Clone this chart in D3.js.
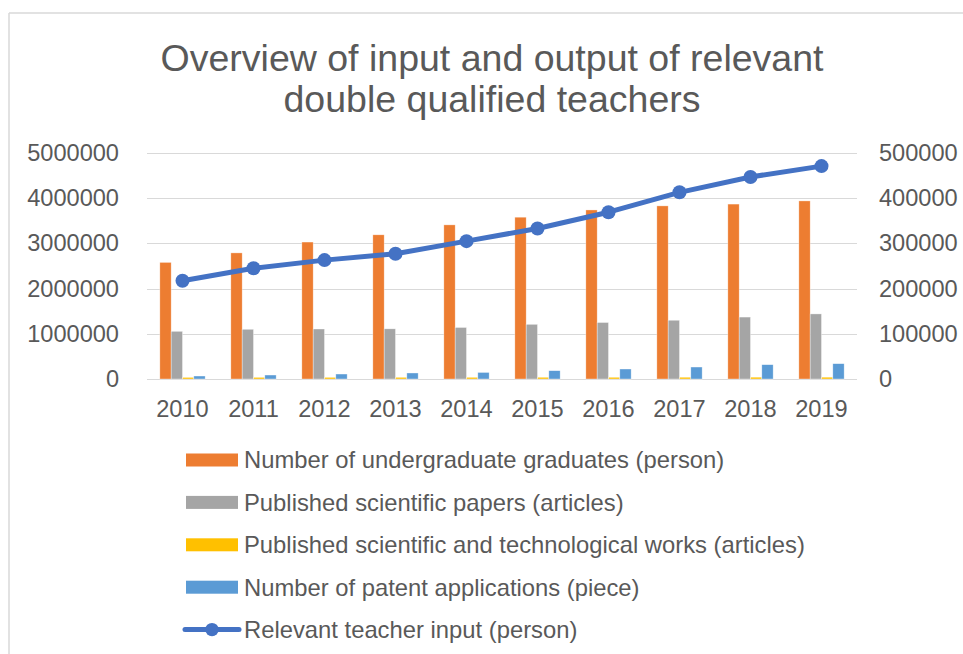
<!DOCTYPE html>
<html>
<head>
<meta charset="utf-8">
<script src="https://cdn.jsdelivr.net/npm/d3@7"></script>
<style>
  body { margin: 0; background: #fff; }
  svg { display: block; font-family: "Liberation Sans", Arial, sans-serif; }
  .title-text { fill: #595959; font-size: 37.5px; }
  .axis-g text { fill: #595959; font-size: 23.6px; }
  .legend-text { fill: #595959; font-size: 23.8px; }
  .grid-line { stroke: #d9d9d9; stroke-width: 1; }
  .frame-line { stroke: #d9d9d9; stroke-width: 1.5; }
</style>
</head>
<body>
<div id="chart"></div>
<script>
const years = ["2010", "2011", "2012", "2013", "2014", "2015", "2016", "2017", "2018", "2019"];

const undergraduates = [2580000, 2790000, 3030000, 3190000, 3410000, 3580000, 3740000, 3830000, 3870000, 3940000];
const papers = [1055000, 1100000, 1106000, 1110000, 1140000, 1210000, 1250000, 1300000, 1370000, 1440000];
const works = [35000, 36000, 36000, 37000, 37000, 38000, 38000, 39000, 40000, 40000];
const patents = [66000, 88000, 110000, 133000, 145000, 184000, 221000, 265000, 317000, 339000];
const teacherInput = [217500, 245000, 263000, 277000, 305000, 333000, 369000, 413000, 447000, 471000];

const leftTicks = [0, 1000000, 2000000, 3000000, 4000000, 5000000];
const rightTicks = [0, 100000, 200000, 300000, 400000, 500000];

const titleLines = ["Overview of input and output of relevant", "double qualified teachers"];

const barSeries = [
  { key: "undergraduates", name: "Number of undergraduate graduates (person)", color: "#ED7D31", values: undergraduates },
  { key: "papers", name: "Published scientific papers (articles)", color: "#A5A5A5", values: papers },
  { key: "works", name: "Published scientific and technological works (articles)", color: "#FFC000", values: works },
  { key: "patents", name: "Number of patent applications (piece)", color: "#5B9BD5", values: patents },
];
const lineSeries = { key: "teachers", name: "Relevant teacher input (person)", color: "#4472C4", values: teacherInput };

class InputOutputChart {
  constructor({ el }) {
    this.el = el;
    this.setup();
    this.scaffold();
    this.render();
  }

  setup() {
    this.width = 963;
    this.height = 654;
    this.plotLeft = 147;
    this.plotRight = 857;
    this.plotTop = 153;
    this.plotBottom = 379;
    this.markerRadius = 7;

    this.x = d3.scaleBand()
      .domain(years)
      .range([this.plotLeft, this.plotRight])
      .paddingInner(0.362)
      .paddingOuter(0.181);
    this.xInner = d3.scaleBand()
      .domain(barSeries.map((d) => d.key))
      .range([0, this.x.bandwidth()]);
    this.yLeft = d3.scaleLinear().domain([0, 5000000]).range([this.plotBottom, this.plotTop]);
    this.yRight = d3.scaleLinear().domain([0, 500000]).range([this.plotBottom, this.plotTop]);

    this.line = d3.line()
      .x((_, i) => this.x(years[i]) + this.x.bandwidth() / 2)
      .y((d) => this.yRight(d));
  }

  scaffold() {
    this.svg = d3.select(this.el)
      .append("svg")
      .attr("width", this.width)
      .attr("height", this.height);
    this.gFrame = this.svg.append("g").attr("class", "frame-g");
    this.gTitle = this.svg.append("g").attr("class", "title-g");
    this.gGrid = this.svg.append("g").attr("class", "grid-g");
    this.gBars = this.svg.append("g").attr("class", "bars-g");
    this.gLine = this.svg.append("g").attr("class", "line-g");
    this.gYL = this.svg.append("g").attr("class", "axis-g");
    this.gYR = this.svg.append("g").attr("class", "axis-g");
    this.gX = this.svg.append("g").attr("class", "axis-g");
    this.gLegend = this.svg.append("g").attr("class", "legend-g");
  }

  render() {
    this.renderFrame();
    this.renderTitle();
    this.renderGrid();
    this.renderBars();
    this.renderLine();
    this.renderAxes();
    this.renderLegend();
  }

  renderFrame() {
    this.gFrame.append("line").attr("class", "frame-line")
      .attr("x1", 9).attr("x2", this.width).attr("y1", 13).attr("y2", 13);
    this.gFrame.append("line").attr("class", "frame-line")
      .attr("x1", 9).attr("x2", 9).attr("y1", 13).attr("y2", this.height);
  }

  renderTitle() {
    this.gTitle.selectAll("text")
      .data(titleLines)
      .join("text")
      .attr("class", "title-text")
      .attr("x", 492)
      .attr("y", (_, i) => 70.5 + i * 41.5)
      .attr("text-anchor", "middle")
      .text((d) => d);
  }

  renderGrid() {
    this.gGrid.selectAll("line")
      .data(leftTicks)
      .join("line")
      .attr("class", "grid-line")
      .attr("x1", this.plotLeft)
      .attr("x2", this.plotRight)
      .attr("y1", (d) => Math.round(this.yLeft(d)) + 0.5)
      .attr("y2", (d) => Math.round(this.yLeft(d)) + 0.5);
  }

  renderBars() {
    const groups = this.gBars.selectAll(".bar-group")
      .data(barSeries)
      .join("g")
      .attr("class", "bar-group")
      .attr("fill", (d) => d.color);

    groups.selectAll("rect")
      .data((s) => s.values.map((v, i) => ({ key: s.key, year: years[i], value: v })))
      .join("rect")
      .attr("x", (d) => this.x(d.year) + this.xInner(d.key))
      .attr("width", this.xInner.bandwidth())
      .attr("y", (d) => this.yLeft(d.value))
      .attr("height", (d) => this.yLeft(0) - this.yLeft(d.value))
      .attr("stroke", "#fff")
      .attr("stroke-opacity", 0.6)
      .attr("stroke-width", 0.6);
  }

  renderLine() {
    this.gLine.append("path")
      .attr("d", this.line(lineSeries.values))
      .attr("fill", "none")
      .attr("stroke", lineSeries.color)
      .attr("stroke-width", 5)
      .attr("stroke-linejoin", "round");

    this.gLine.selectAll("circle")
      .data(lineSeries.values)
      .join("circle")
      .attr("cx", (_, i) => this.x(years[i]) + this.x.bandwidth() / 2)
      .attr("cy", (d) => this.yRight(d))
      .attr("r", this.markerRadius)
      .attr("fill", lineSeries.color);
  }

  renderAxes() {
    this.gYL
      .attr("transform", `translate(${this.plotLeft - 28},0)`)
      .call(d3.axisLeft(this.yLeft).tickValues(leftTicks).tickFormat(d3.format("d")).tickSize(0).tickPadding(0))
      .call((g) => g.select(".domain").remove());

    this.gYR
      .attr("transform", `translate(${this.plotRight + 22},0)`)
      .call(d3.axisRight(this.yRight).tickValues(rightTicks).tickFormat(d3.format("d")).tickSize(0).tickPadding(0))
      .call((g) => g.select(".domain").remove());

    this.gX
      .attr("transform", `translate(0,${this.plotBottom})`)
      .call(d3.axisBottom(this.x).tickSize(0).tickPadding(21))
      .call((g) => g.select(".domain").remove());

    this.svg.selectAll(".axis-g").attr("font-family", null).attr("font-size", null);
  }

  renderLegend() {
    const rowY = (i) => 460 + i * 42.4;
    const items = barSeries.concat([lineSeries]);
    const rows = this.gLegend.selectAll(".legend-row")
      .data(items)
      .join("g")
      .attr("class", "legend-row")
      .attr("transform", (_, i) => `translate(0,${rowY(i)})`);

    rows.filter((d) => d !== lineSeries)
      .append("rect")
      .attr("x", 186)
      .attr("y", -6.5)
      .attr("width", 52)
      .attr("height", 13)
      .attr("fill", (d) => d.color);

    const lineRow = rows.filter((d) => d === lineSeries);
    lineRow.append("line")
      .attr("x1", 185).attr("x2", 239).attr("y1", 0).attr("y2", 0)
      .attr("stroke", lineSeries.color)
      .attr("stroke-width", 5)
      .attr("stroke-linecap", "round");
    lineRow.append("circle")
      .attr("cx", 212).attr("cy", 0).attr("r", 6.7)
      .attr("fill", lineSeries.color);

    rows.append("text")
      .attr("class", "legend-text")
      .attr("x", 244)
      .attr("dy", "0.35em")
      .text((d) => d.name);
  }
}

new InputOutputChart({ el: document.getElementById("chart") });
</script>
</body>
</html>
